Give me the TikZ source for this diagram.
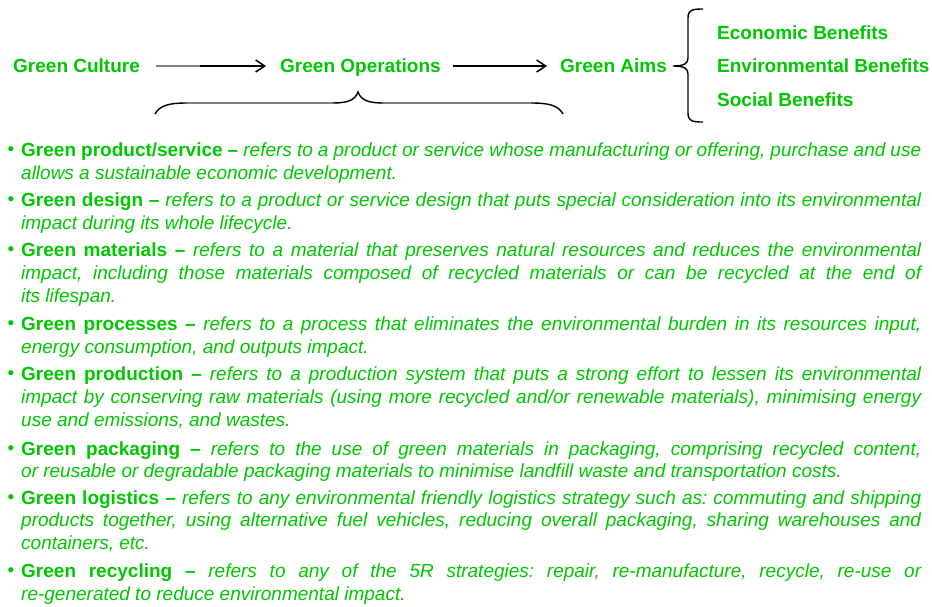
\documentclass[tikz,border=0pt]{standalone}
\usepackage{fontspec}
\setmainfont{Liberation Sans}
\usetikzlibrary{arrows.meta}
\definecolor{grn}{RGB}{0,200,0}
\definecolor{midgray}{RGB}{128,128,128}
\newcommand{\bul}{\llap{\raisebox{0.8pt}{•}\hspace{7pt}}}
\newcommand{\itemsetup}{\frenchspacing\spaceskip=0.278em plus 0.8em minus 0.1em\relax\tolerance=10000\hyphenpenalty=10000\exhyphenpenalty=10000\emergencystretch=20pt\relax}
\begin{document}
\begin{tikzpicture}[x=1pt,y=-1pt,
  lbl/.style={font=\fontsize{19}{22.9}\selectfont\bfseries, text=grn, inner sep=0pt, anchor=base west, text height=13.6pt, text depth=0pt},
  itm/.style={text width=900pt, align=justify, inner sep=0pt, anchor=base west, text=grn, font=\fontsize{19}{22.9}\selectfont},
  conn/.style={line width=1.5pt, -{Straight Barb[length=9pt,width=12pt]}},
  brc/.style={line width=1.4pt},
  grayover/.style={line width=1.5pt, draw=midgray}
]
\useasboundingbox[fill=white] (0,0) rectangle (932,606);

% top row
\node[lbl] (culture) at (13,72.8) {Green Culture};
\node[lbl] (ops) at (280,72.8) {Green Operations};
\node[lbl] (aims) at (560,72.8) {Green Aims};
\node[lbl] (eco) at (717,39.8) {Economic Benefits};
\node[lbl] (env) at (717,72.8) {Environmental Benefits};
\node[lbl] (soc) at (717,106.8) {Social Benefits};

\coordinate (a1s) at (156,66);
\coordinate (a1g) at (200,66);
\coordinate (a1e) at (266,66);
\coordinate (a2s) at (453,66);
\coordinate (a2e) at (547,66);
\draw[conn] (a1s) -- (a1e);
\draw[grayover] (a1s) -- (a1g);
\draw[conn] (a2s) -- (a2e);

% brace to benefits
\coordinate (tip) at (673,66);
\draw[brc] (703,9) .. controls (692,9) and (688,10) .. (688,18) -- (688,58)
  .. controls (688,63) and (685,66) .. (tip)
  .. controls (685,66) and (688,69) .. (688,74) -- (688,113)
  .. controls (688,121) and (692,122) .. (703,122);

% bottom brace
\coordinate (bl) at (155,114);
\coordinate (bt) at (358,92);
\coordinate (br) at (563,114);
\draw[brc] (bl) .. controls (160,105) and (170,103) .. (187,103) -- (333,103)
  .. controls (348,103) and (355,100) .. (bt)
  .. controls (361,100) and (368,103) .. (383,103) -- (531,103)
  .. controls (548,103) and (558,105) .. (br);
\draw[grayover] (187,103) -- (333,103);
\draw[grayover] (383,103) -- (531,103);

% items
\node[itm] (i1) at (21,156.7) {\itemsetup\bul\textbf{Green product/service –} \textit{refers to a product or service whose manufacturing or offering, purchase and use\linebreak allows a sustainable economic development.}};
\node[itm] (i2) at (21,206.6) {\itemsetup\bul\textbf{Green design –} \textit{refers to a product or service design that puts special consideration into its environmental\linebreak impact during its whole lifecycle.}};
\node[itm] (i3) at (21,256.7) {\itemsetup\bul\textbf{Green materials –} \textit{refers to a material that preserves natural resources and reduces the environmental\linebreak impact, including those materials composed of recycled materials or can be recycled at the end of\linebreak its lifespan.}};
\node[itm] (i4) at (21,330.7) {\itemsetup\bul\textbf{Green processes –} \textit{refers to a process that eliminates the environmental burden in its resources input,\linebreak energy consumption, and outputs impact.}};
\node[itm] (i5) at (21,380.2) {\itemsetup\bul\textbf{Green production –} \textit{refers to a production system that puts a strong effort to lessen its environmental\linebreak impact by conserving raw materials (using more recycled and/or renewable materials), minimising energy\linebreak use and emissions, and wastes.}};
\node[itm] (i6) at (21,455) {\itemsetup\bul\textbf{Green packaging –} \textit{refers to the use of green materials in packaging, comprising recycled content,\linebreak or reusable or degradable packaging materials to minimise landfill waste and transportation costs.}};
\node[itm] (i7) at (21,504) {\itemsetup\bul\textbf{Green logistics –} \textit{refers to any environmental friendly logistics strategy such as: commuting and shipping\linebreak products together, using alternative fuel vehicles, reducing overall packaging, sharing warehouses and\linebreak containers, etc.}};
\node[itm] (i8) at (21,577.7) {\itemsetup\bul\textbf{Green recycling –} \textit{refers to any of the 5R strategies: repair, re-manufacture, recycle, re-use or\linebreak re-generated to reduce environmental impact.}};
\end{tikzpicture}
\end{document}
